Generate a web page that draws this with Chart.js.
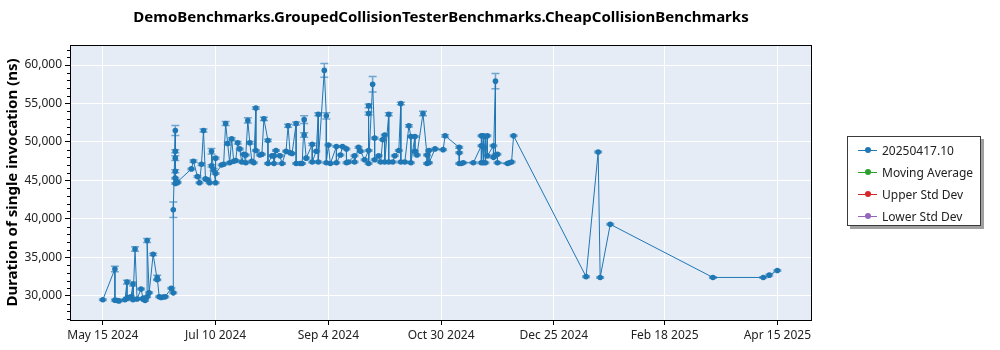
<!DOCTYPE html>
<html>
<head>
<meta charset="utf-8">
<title>CheapCollisionBenchmarks</title>
<script src="https://cdn.jsdelivr.net/npm/chart.js@4.4.1/dist/chart.umd.min.js"></script>
<style>
  body { margin: 0; background: #fff; }
  #wrap { position: relative; width: 1000px; height: 350px; }
  #legend {
    position: absolute; left: 847px; top: 136px; width: 134px; height: 90px;
    border: 1px solid #3a3a3a; background: #fff; box-shadow: 3px 3px 0 #a0a0a0;
    font: 12px "Noto Sans", sans-serif; color: #222; padding-top: 2px; box-sizing: border-box;
  }
  #legend .row { height: 22px; display: flex; align-items: center; }
  #legend .sample { position: relative; width: 19px; height: 1px; margin: 0 5px 0 10px; }
  #legend .sample i { position: absolute; left: 7px; top: -2.5px; width: 6px; height: 6px; border-radius: 50%; }
</style>
</head>
<body>
<div id="wrap">
  <canvas id="chart" width="1000" height="350"></canvas>
  <div id="legend"></div>
</div>
<script>
// run dates of the benchmark, one per point
var runDates = [
  '2024-05-15','2024-05-21','2024-05-21','2024-05-22','2024-05-23','2024-05-26','2024-05-27','2024-05-27',
  '2024-05-28','2024-05-29','2024-05-30','2024-05-30','2024-05-31','2024-06-01','2024-06-03','2024-06-04',
  '2024-06-04','2024-06-05','2024-06-06','2024-06-06','2024-06-07','2024-06-09','2024-06-11','2024-06-11',
  '2024-06-12','2024-06-13','2024-06-14','2024-06-15','2024-06-18','2024-06-19','2024-06-19','2024-06-20',
  '2024-06-20','2024-06-20','2024-06-20','2024-06-20','2024-06-20','2024-06-21','2024-06-21','2024-06-28',
  '2024-06-29','2024-07-01','2024-07-02','2024-07-03','2024-07-04','2024-07-05','2024-07-06','2024-07-07',
  '2024-07-08','2024-07-08','2024-07-09','2024-07-10','2024-07-10','2024-07-10','2024-07-13','2024-07-14',
  '2024-07-15','2024-07-16','2024-07-17','2024-07-18','2024-07-19','2024-07-20','2024-07-21','2024-07-22',
  '2024-07-23','2024-07-24','2024-07-25','2024-07-25','2024-07-26','2024-07-27','2024-07-28','2024-07-29',
  '2024-07-30','2024-07-30','2024-08-01','2024-08-02','2024-08-03','2024-08-05','2024-08-05','2024-08-07',
  '2024-08-08','2024-08-08','2024-08-09','2024-08-11','2024-08-12','2024-08-14','2024-08-15','2024-08-16',
  '2024-08-17','2024-08-19','2024-08-19','2024-08-21','2024-08-22','2024-08-23','2024-08-23','2024-08-24',
  '2024-08-27','2024-08-27','2024-08-29','2024-08-30','2024-08-30','2024-09-02','2024-09-03','2024-09-03',
  '2024-09-04','2024-09-05','2024-09-08','2024-09-08','2024-09-10','2024-09-11','2024-09-13','2024-09-13',
  '2024-09-14','2024-09-17','2024-09-17','2024-09-19','2024-09-20','2024-09-22','2024-09-24','2024-09-24',
  '2024-09-24','2024-09-24','2024-09-26','2024-09-27','2024-09-27','2024-09-29','2024-09-30','2024-10-01',
  '2024-10-02','2024-10-02','2024-10-04','2024-10-04','2024-10-06','2024-10-07','2024-10-09','2024-10-10',
  '2024-10-10','2024-10-12','2024-10-14','2024-10-15','2024-10-15','2024-10-17','2024-10-17','2024-10-18',
  '2024-10-21','2024-10-23','2024-10-23','2024-10-24','2024-10-24','2024-10-27','2024-10-31','2024-11-01',
  '2024-11-08','2024-11-08','2024-11-08','2024-11-09','2024-11-10','2024-11-15','2024-11-19','2024-11-19',
  '2024-11-19','2024-11-20','2024-11-20','2024-11-21','2024-11-21','2024-11-22','2024-11-22','2024-11-25',
  '2024-11-25','2024-11-26','2024-11-26','2024-11-27','2024-11-27','2024-12-02','2024-12-03','2024-12-04',
  '2024-12-05','2025-01-10','2025-01-16','2025-01-17','2025-01-22','2025-03-14','2025-04-08','2025-04-11',
  '2025-04-15'
];

// mean duration of a single invocation (ns)
var durations = [
  29500, 33500, 29450, 29400, 29350, 29500, 31800, 29700,
  29800, 29900, 31550, 29500, 36100, 29600, 30900, 29600,
  29700, 29400, 29900, 37200, 30400, 35400, 32100, 32400,
  29900, 29800, 29850, 29900, 31000, 30400, 41200, 51500,
  48800, 47900, 46200, 45300, 44600, 44700, 44800, 46500,
  47500, 45500, 44700, 47100, 51500, 45200, 45100, 44700,
  46900, 48800, 46400, 44700, 47900, 45900, 47000, 47100,
  52400, 49800, 47300, 50400, 47500, 47600, 49900, 49100,
  47400, 48400, 47300, 48300, 52800, 49900, 47500, 47300,
  54400, 48900, 48300, 48400, 53000, 50200, 47200, 48200,
  48200, 47200, 48900, 48200, 47200, 48800, 52100, 48600,
  48500, 52400, 47200, 47200, 47200, 52900, 50900, 47900,
  49700, 47400, 48800, 53600, 47400, 59300, 53400, 47300,
  49600, 47200, 49400, 47300, 48300, 49400, 49100, 47300,
  47400, 48200, 47400, 49300, 48800, 47700, 48900, 54700,
  53700, 47200, 57500, 50500, 47700, 48200, 47400, 50300,
  50900, 47400, 53600, 47400, 47400, 48200, 48900, 55000,
  47400, 47400, 52100, 50700, 47300, 50700, 48800, 48300,
  53700, 48300, 47200, 48900, 47300, 49100, 49000, 50800,
  49300, 48600, 47200, 47200, 47300, 47300, 49500, 50800,
  47300, 50800, 47300, 50700, 47300, 50800, 48200, 49500,
  48000, 57900, 48300, 48400, 47300, 47200, 47300, 47400,
  50800, 32500, 48700, 32400, 39300, 32400, 32400, 32700,
  33300
];

// error (ns) drawn as bars with caps
var stdErrors = [
  100, 350, 100, 100, 100, 100, 250, 100,
  100, 100, 250, 100, 300, 100, 100, 100,
  100, 100, 100, 250, 100, 150, 100, 300,
  100, 100, 100, 100, 100, 100, 1000, 650,
  200, 300, 200, 100, 100, 100, 100, 100,
  150, 100, 100, 150, 200, 100, 100, 100,
  150, 350, 150, 100, 100, 100, 100, 100,
  250, 200, 100, 150, 100, 100, 150, 100,
  100, 100, 100, 100, 350, 150, 100, 100,
  150, 100, 100, 100, 200, 150, 100, 100,
  100, 100, 100, 100, 100, 100, 200, 100,
  100, 200, 100, 100, 100, 500, 300, 100,
  150, 100, 100, 200, 100, 900, 400, 100,
  100, 100, 100, 100, 100, 100, 100, 100,
  100, 100, 100, 100, 100, 100, 100, 250,
  200, 100, 1000, 100, 100, 100, 100, 100,
  100, 100, 200, 100, 100, 100, 100, 150,
  100, 100, 150, 100, 100, 100, 100, 100,
  300, 100, 100, 100, 100, 100, 100, 150,
  100, 100, 100, 100, 100, 100, 100, 100,
  100, 100, 100, 100, 100, 100, 100, 100,
  100, 1000, 100, 100, 100, 100, 100, 100,
  100, 100, 100, 100, 100, 100, 100, 100,
  100
];

var seriesNames = ['20250417.10', 'Moving Average', 'Upper Std Dev', 'Lower Std Dev'];
var seriesColors = ['#1f77b4', '#2ca02c', '#d62728', '#9467bd'];
var xTickLabels = ['May 15 2024', 'Jul 10 2024', 'Sep 4 2024', 'Oct 30 2024', 'Dec 25 2024', 'Feb 18 2025', 'Apr 15 2025'];
var yTickValues = [30000, 35000, 40000, 45000, 50000, 55000, 60000];

var FONT = '"Noto Sans", sans-serif';
var MONTHS = {Jan:0, Feb:1, Mar:2, Apr:3, May:4, Jun:5, Jul:6, Aug:7, Sep:8, Oct:9, Nov:10, Dec:11};
var baseTime = Date.UTC(2024, 4, 15);

function dayOf(iso) {
  return (Date.parse(iso + 'T00:00:00Z') - baseTime) / 86400000;
}
function dayOfLabel(label) {
  var p = label.split(' ');
  return (Date.UTC(+p[2], MONTHS[p[0]], +p[1]) - baseTime) / 86400000;
}

var points = runDates.map(function (d, i) {
  return { x: dayOf(d), y: durations[i], err: stdErrors[i] };
});

var datasets = seriesNames.map(function (name, i) {
  return {
    label: name,
    data: i === 0 ? points : [],
    borderColor: seriesColors[i],
    backgroundColor: seriesColors[i],
    borderWidth: 1,
    pointRadius: 2.8,
    pointBorderWidth: 0,
    tension: 0
  };
});

// plot background
var plotBackground = {
  id: 'plotBackground',
  beforeDraw: function (chart) {
    var a = chart.chartArea, ctx = chart.ctx;
    ctx.save();
    ctx.fillStyle = '#e5ecf6';
    ctx.fillRect(a.left, a.top, a.right - a.left, a.bottom - a.top);
    ctx.restore();
  }
};

// error bars under the markers
var errorBars = {
  id: 'errorBars',
  beforeDatasetsDraw: function (chart) {
    var ctx = chart.ctx, x = chart.scales.x, y = chart.scales.y;
    ctx.save();
    ctx.strokeStyle = 'rgba(31,119,180,0.6)';
    ctx.lineWidth = 1.5;
    chart.data.datasets[0].data.forEach(function (p) {
      var px = x.getPixelForValue(p.x);
      var t = y.getPixelForValue(p.y + p.err);
      var b = y.getPixelForValue(p.y - p.err);
      ctx.beginPath();
      ctx.moveTo(px, t); ctx.lineTo(px, b);
      ctx.moveTo(px - 4, t); ctx.lineTo(px + 4, t);
      ctx.moveTo(px - 4, b); ctx.lineTo(px + 4, b);
      ctx.stroke();
    });
    ctx.restore();
  }
};

// frame, minor ticks and title centred over the plot
var frameAndTitle = {
  id: 'frameAndTitle',
  afterDraw: function (chart) {
    var a = chart.chartArea, ctx = chart.ctx, y = chart.scales.y;
    ctx.save();
    ctx.strokeStyle = '#000';
    ctx.lineWidth = 1;
    ctx.strokeRect(Math.round(a.left) + 0.5, Math.round(a.top) + 0.5,
      Math.round(a.right - a.left) - 1, Math.round(a.bottom - a.top));
    ctx.beginPath();
    for (var v = Math.ceil(y.min / 1000) * 1000; v <= y.max; v += 1000) {
      if (v % 5000 === 0) continue;
      var py = Math.round(y.getPixelForValue(v)) + 0.5;
      ctx.moveTo(a.left - 3, py); ctx.lineTo(a.left, py);
    }
    ctx.stroke();
    ctx.fillStyle = '#000';
    ctx.font = 'bold 15px ' + FONT;
    ctx.textAlign = 'center';
    ctx.textBaseline = 'middle';
    ctx.fillText('DemoBenchmarks.GroupedCollisionTesterBenchmarks.CheapCollisionBenchmarks', (a.left + a.right) / 2, 18);
    ctx.restore();
  }
};

var chart = new Chart(document.getElementById('chart'), {
  type: 'line',
  data: { datasets: datasets },
  options: {
    responsive: false,
    animation: false,
    layout: { padding: { left: 0, right: 188, top: 45, bottom: 0 } },
    plugins: { legend: { display: false }, title: { display: false }, tooltip: { enabled: false } },
    scales: {
      x: {
        type: 'linear',
        min: -16.3,
        max: 352.2,
        afterFit: function (s) { s.height = 30; },
        afterBuildTicks: function (s) {
          s.ticks = xTickLabels.map(function (l) { return { value: dayOfLabel(l) }; });
        },
        ticks: {
          autoSkip: false, maxRotation: 0, padding: 3, color: '#222',
          font: { family: FONT, size: 12 },
          callback: function (v, i) { return xTickLabels[i]; }
        },
        grid: { color: '#ffffff', lineWidth: 1, tickColor: '#000', tickLength: 5 },
        border: { display: false }
      },
      y: {
        min: 26870,
        max: 62600,
        afterFit: function (s) { s.width = 70; },
        afterBuildTicks: function (s) {
          s.ticks = yTickValues.map(function (v) { return { value: v }; });
        },
        ticks: {
          padding: 3, color: '#222',
          font: { family: FONT, size: 12 },
          callback: function (v) { return v.toLocaleString('en-US'); }
        },
        grid: { color: '#ffffff', lineWidth: 1, tickColor: '#000', tickLength: 5 },
        border: { display: false },
        title: {
          display: true,
          text: 'Duration of single invocation (ns)',
          color: '#000',
          font: { family: FONT, size: 15, weight: 'bold' },
          padding: { top: 4, bottom: 0 }
        }
      }
    }
  },
  plugins: [plotBackground, errorBars, frameAndTitle]
});

// legend box on the right
var legendEl = document.getElementById('legend');
chart.data.datasets.forEach(function (ds) {
  var row = document.createElement('div');
  row.className = 'row';
  var sample = document.createElement('span');
  sample.className = 'sample';
  sample.style.background = ds.borderColor;
  var dot = document.createElement('i');
  dot.style.background = ds.borderColor;
  sample.appendChild(dot);
  var text = document.createElement('span');
  text.textContent = ds.label;
  row.appendChild(sample);
  row.appendChild(text);
  legendEl.appendChild(row);
});
</script>
</body>
</html>
